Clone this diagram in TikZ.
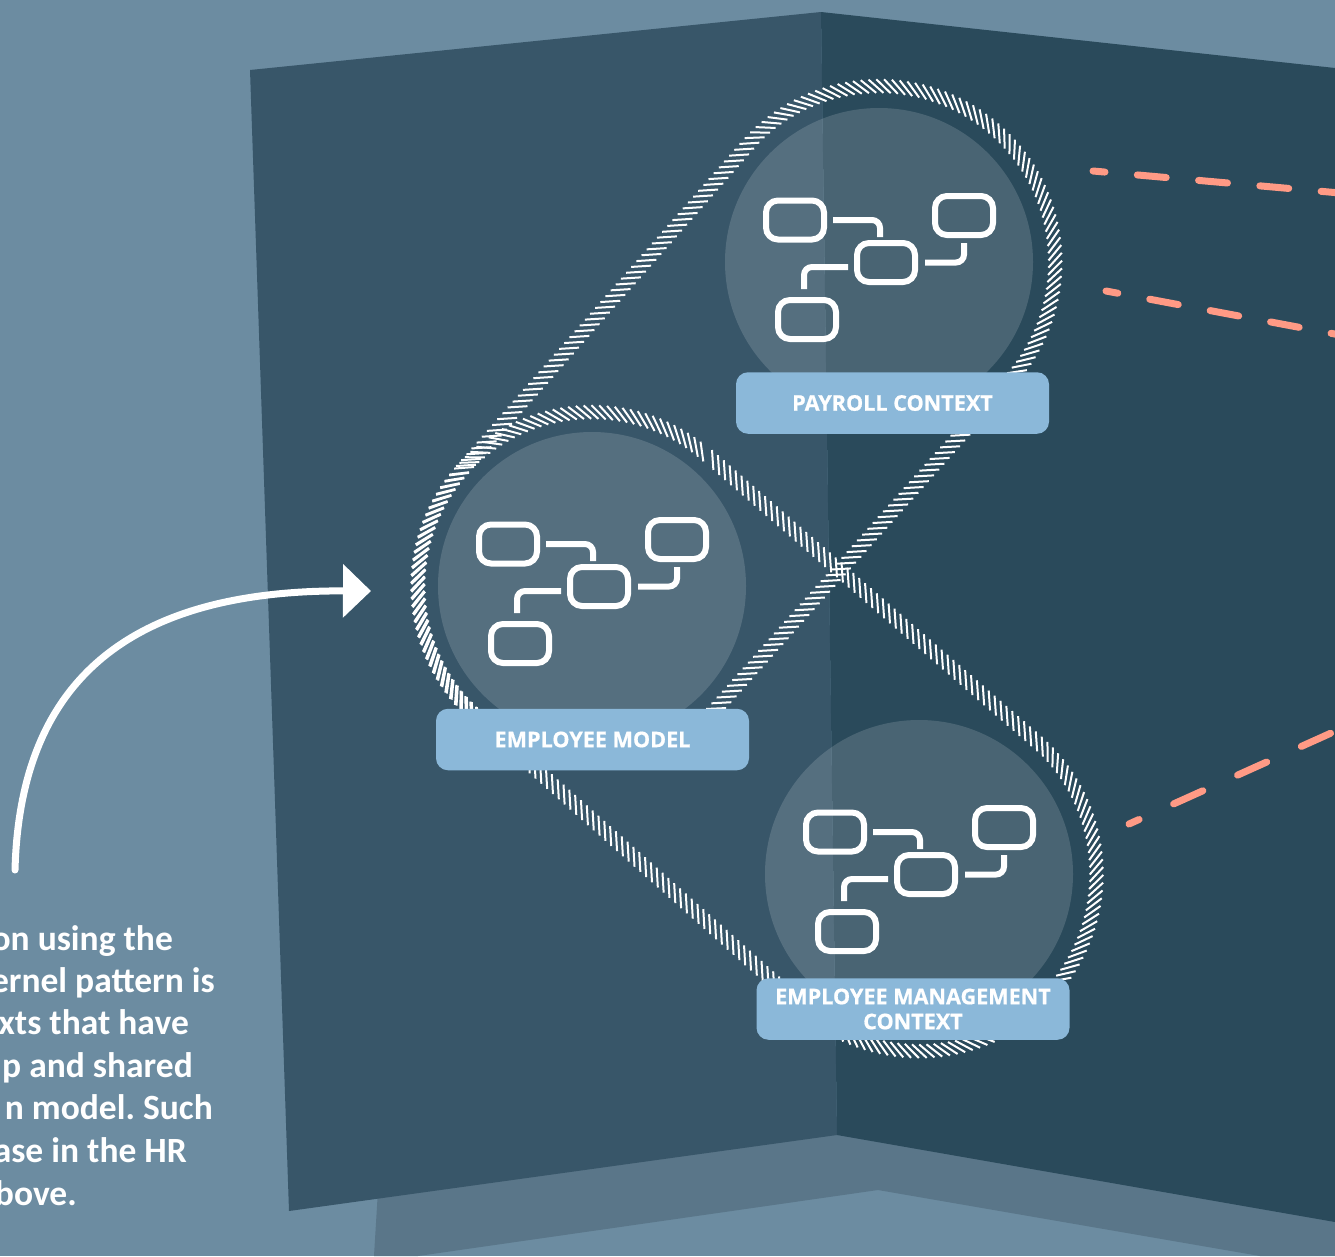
\documentclass[tikz,border=0pt]{standalone}
\usepackage{fontspec}
\setmainfont{Open Sans}[BoldFeatures={FakeBold=0.7}]
\newfontfamily\notefont{Carlito}
\usetikzlibrary{arrows.meta,decorations.pathreplacing}

\definecolor{bgblue}{HTML}{6C8CA1}
\definecolor{floorblue}{HTML}{5A7689}
\definecolor{wallleft}{HTML}{385669}
\definecolor{wallright}{HTML}{2A4A5B}
\definecolor{labelblue}{HTML}{8BB8D9}
\definecolor{salmon}{HTML}{FF9A85}

\tikzset{
  hatchband/.style={white,line width=2pt,decorate,decoration={border,segment length=7.8pt,amplitude=20pt,angle=-45}},
  ctxcircle/.style={fill=white,fill opacity=.15},
  ctxlabel/.style={fill=labelblue,rounded corners=12pt,minimum width=313pt,minimum height=61.5pt,inner sep=0pt,
    text=white,align=center,font=\fontsize{21.6}{25}\selectfont\bfseries},
  iconbox/.style={draw=white,line width=6pt,rounded corners=12pt,minimum width=58pt,minimum height=39pt,inner sep=0pt},
  iconlink/.style={draw=white,line width=6pt,rounded corners=8pt},
  dashlink/.style={salmon,line width=7pt,line cap=round,dash pattern=on 29pt off 32.5pt},
  notetext/.style={text=white,anchor=base east,inner sep=0pt,font=\notefont\frenchspacing\fontsize{35.5}{40}\selectfont\bfseries},
  modelglyph/.pic={
    \node[iconbox] (-a) at (-84,-42) {};
    \node[iconbox] (-b) at (7,0.5) {};
    \node[iconbox] (-c) at (85,-46.5) {};
    \node[iconbox] (-d) at (-72,57.5) {};
    \draw[iconlink,shorten <=6pt,shorten >=3pt] (-a.east) -| ([xshift=-6pt]-b.north);
    \draw[iconlink,shorten <=7pt,shorten >=5pt] (-b.east) -| (-c.south);
    \draw[iconlink,shorten <=6pt,shorten >=8pt] ([yshift=-4.5pt]-b.west) -| ([xshift=-3pt]-d.north);
  }
}

\begin{document}
\begin{tikzpicture}[x=1pt,y=-1pt]
\useasboundingbox (0,0) rectangle (1335,1256);

% room
\fill[bgblue] (0,0) rectangle (1335,1256);
\fill[floorblue] (374,1256) -- (378,1190) -- (837,1130) -- (1335,1215) -- (1335,1256) -- (1260,1256) -- (878,1190) -- (418,1256) -- cycle;
\fill[wallleft] (250,70) -- (821,12) -- (837,1135) -- (289,1211) -- cycle;
\fill[wallright] (821,12) -- (1335,68) -- (1335,1222) -- (837,1135) -- cycle;

\fill[ctxcircle] (879,262) circle (154);
\fill[ctxcircle] (592,586) circle (154);
\fill[ctxcircle] (919,874) circle (154);

% the two bands
\draw[hatchband] (456,466) -- (742,141) arc (-138.5:41.5:183) -- (728,706) arc (41.5:221.5:181);
\draw[hatchband] (712,450) -- (1041,736) arc (-48.6:131.4:184) -- (472,722) arc (131.4:311.4:181);

\pic (payroll) at (879,262) {modelglyph};
\pic (employee) at (592,586) {modelglyph};
\pic (management) at (919,874) {modelglyph};

\node[ctxlabel] (payrolllabel) at (892.5,403) {PAYROLL CONTEXT};
\node[ctxlabel] (employeelabel) at (592.5,739.5) {EMPLOYEE MODEL};
\node[ctxlabel] (managementlabel) at (913,1009) {EMPLOYEE MANAGEMENT\\CONTEXT};

% dashed lines running off the right edge
\coordinate (dasha1) at (1093,171);
\coordinate (dasha2) at (1340,193);
\coordinate (dashb1) at (1106,291);
\coordinate (dashb2) at (1340,335);
\coordinate (dashc1) at (1129,824);
\coordinate (dashc2) at (1340,729);
\draw[dashlink,dash phase=17pt] (dasha1) -- (dasha2);
\draw[dashlink,dash phase=17pt] (dashb1) -- (dashb2);
\draw[dashlink,dash pattern=on 32pt off 38pt,dash phase=21pt] (dashc1) -- (dashc2);

% arrow to the shared model
\coordinate (arrowstart) at (15,870);
\coordinate (arrowend) at (371,591);
\draw[white,line width=7pt,line cap=round,-{Triangle[length=28pt,width=52pt]}] (arrowstart) .. controls (20,680) and (130,590) .. (arrowend);

\foreach \i/\txt/\xend/\ypos in {1/on using the/173/950,2/ernel pattern is/215/992,3/xts that have/189/1034,4/p and shared/193/1077,5/n model. Such/213/1119,6/ase in the HR/187/1162,7/bove./77/1205}
  \node[notetext] (note\i) at (\xend,\ypos) {\txt};
\end{tikzpicture}
\end{document}
